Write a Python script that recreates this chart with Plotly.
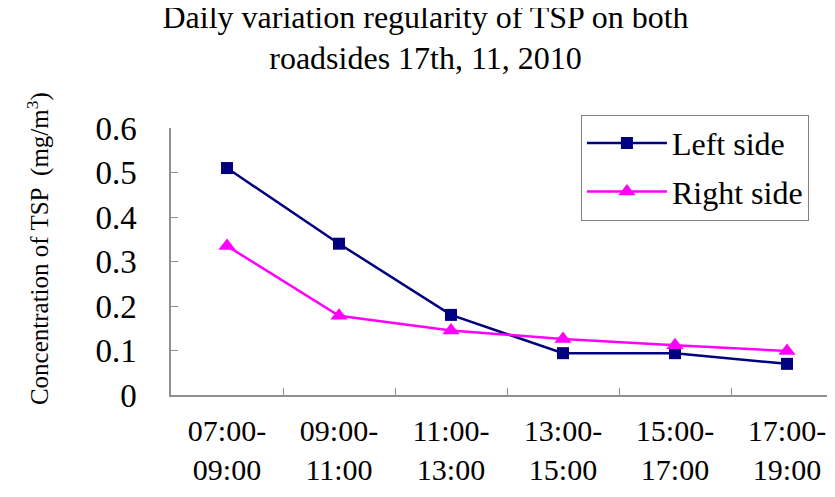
import plotly.graph_objects as go

# time windows on 17 Nov 2010
periods = ["07:00-<br>09:00", "09:00-<br>11:00", "11:00-<br>13:00",
           "13:00-<br>15:00", "15:00-<br>17:00", "17:00-<br>19:00"]
left_side = [0.51, 0.34, 0.18, 0.094, 0.094, 0.07]     # mg/m3
right_side = [0.335, 0.178, 0.145, 0.126, 0.112, 0.099]  # mg/m3

serif = "Liberation Serif, Times New Roman, serif"

fig = go.Figure()
fig.add_trace(go.Scatter(x=periods, y=left_side, name="Left side", legendgroup="l",
                         mode="lines+markers",
                         line=dict(color="#000080", width=2.5),
                         marker=dict(symbol="square", size=12, color="#000080")))
fig.add_trace(go.Scatter(x=periods, y=right_side, name="Right side", legendgroup="r",
                         mode="lines+markers",
                         line=dict(color="#ff00ff", width=2.5),
                         marker=dict(symbol="triangle-up", size=15, color="#ff00ff")))

fig.update_layout(
    width=835, height=497,
    margin=dict(l=163, r=0, t=120, b=110),
    paper_bgcolor="white", plot_bgcolor="white",
    font=dict(family=serif, color="black", size=28),
    title=dict(text="Daily variation regularity of TSP on both<br>roadsides 17th, 11, 2010",
               x=0.5, xanchor="center", y=0.96, yanchor="top",
               font=dict(family=serif, size=32)),
    legend=dict(x=0.61, y=1.05, xanchor="left", yanchor="top",
                bordercolor="#808080", borderwidth=1, bgcolor="white",
                font=dict(family=serif, size=32), tracegroupgap=4,
                itemwidth=80),
    showlegend=True,
)
# y axis title as rotated annotation so it can sit a little above centre
fig.add_annotation(text="Concentration of TSP  (mg/m<sup>3</sup>)",
                   xref="paper", yref="paper", x=-0.198, y=0.55,
                   xanchor="center", yanchor="middle", textangle=-90,
                   showarrow=False, font=dict(family=serif, size=25))
fig.update_xaxes(type="category", range=[-0.5, 5.5],
                 showline=True, linecolor="#909090", linewidth=1.5,
                 ticks="inside", tickson="boundaries", ticklen=7, tickcolor="#909090",
                 showgrid=False, tickfont=dict(family=serif, size=30), ticklabelstandoff=8)
fig.update_yaxes(range=[0, 0.6], dtick=0.1,
                 showline=True, linecolor="#909090", linewidth=1.5,
                 ticks="inside", ticklen=7, tickcolor="#909090",
                 showgrid=False, zeroline=False, tickfont=dict(family=serif, size=33),
                 ticklabelstandoff=26)

fig.write_html("out.html")
